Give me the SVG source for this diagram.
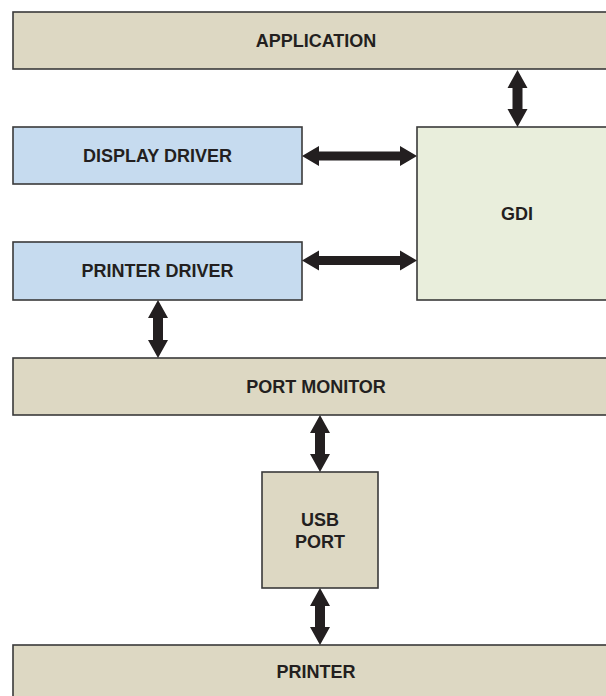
<svg xmlns="http://www.w3.org/2000/svg" width="606" height="696" viewBox="0 0 606 696">
<style>
.box{stroke:#3a3a3a;stroke-width:1.6}
.tan{fill:#ddd8c3}
.blue{fill:#c6dbef}
.green{fill:#e9eedc}
.lbl{font-family:"Liberation Sans",Arial,sans-serif;font-weight:bold;font-size:18px;fill:#231f20;text-anchor:middle}
.arr{fill:#231f20}
</style>
<rect width="606" height="696" fill="#ffffff"/>
<g id="application"><rect class="box tan" x="13" y="12" width="610" height="57"/><text class="lbl" x="316" y="47">APPLICATION</text></g>
<g id="display-driver"><rect class="box blue" x="13" y="127" width="289" height="57"/><text class="lbl" x="157.5" y="162">DISPLAY DRIVER</text></g>
<g id="printer-driver"><rect class="box blue" x="13" y="242" width="289" height="58"/><text class="lbl" x="157.5" y="277">PRINTER DRIVER</text></g>
<g id="gdi"><rect class="box green" x="417" y="127" width="200" height="173"/><text class="lbl" x="517" y="220">GDI</text></g>
<g id="port-monitor"><rect class="box tan" x="13" y="358" width="610" height="57"/><text class="lbl" x="316" y="393">PORT MONITOR</text></g>
<g id="usb-port"><rect class="box tan" x="262" y="472" width="116" height="116"/><text class="lbl" x="320" y="526">USB</text><text class="lbl" x="320" y="548">PORT</text></g>
<g id="printer"><rect class="box tan" x="13" y="645" width="610" height="60"/><text class="lbl" x="316" y="678">PRINTER</text></g>
<g id="connectors">
<polygon class="arr" points="517.5,70 527.5,88 522.5,88 522.5,109 527.5,109 517.5,127 507.5,109 512.5,109 512.5,88 507.5,88"/>
<polygon class="arr" points="302,156 319,146 319,151.5 400,151.5 400,146 417,156 400,166 400,160.5 319,160.5 319,166"/>
<polygon class="arr" points="302,260.5 319,250.5 319,256 400,256 400,250.5 417,260.5 400,270.5 400,265 319,265 319,270.5"/>
<polygon class="arr" points="158,300 168,318 163,318 163,340 168,340 158,358 148,340 153,340 153,318 148,318"/>
<polygon class="arr" points="320,415 330,433 325,433 325,454 330,454 320,472 310,454 315,454 315,433 310,433"/>
<polygon class="arr" points="320,588 330,606 325,606 325,627 330,627 320,645 310,627 315,627 315,606 310,606"/>
</g>
</svg>
